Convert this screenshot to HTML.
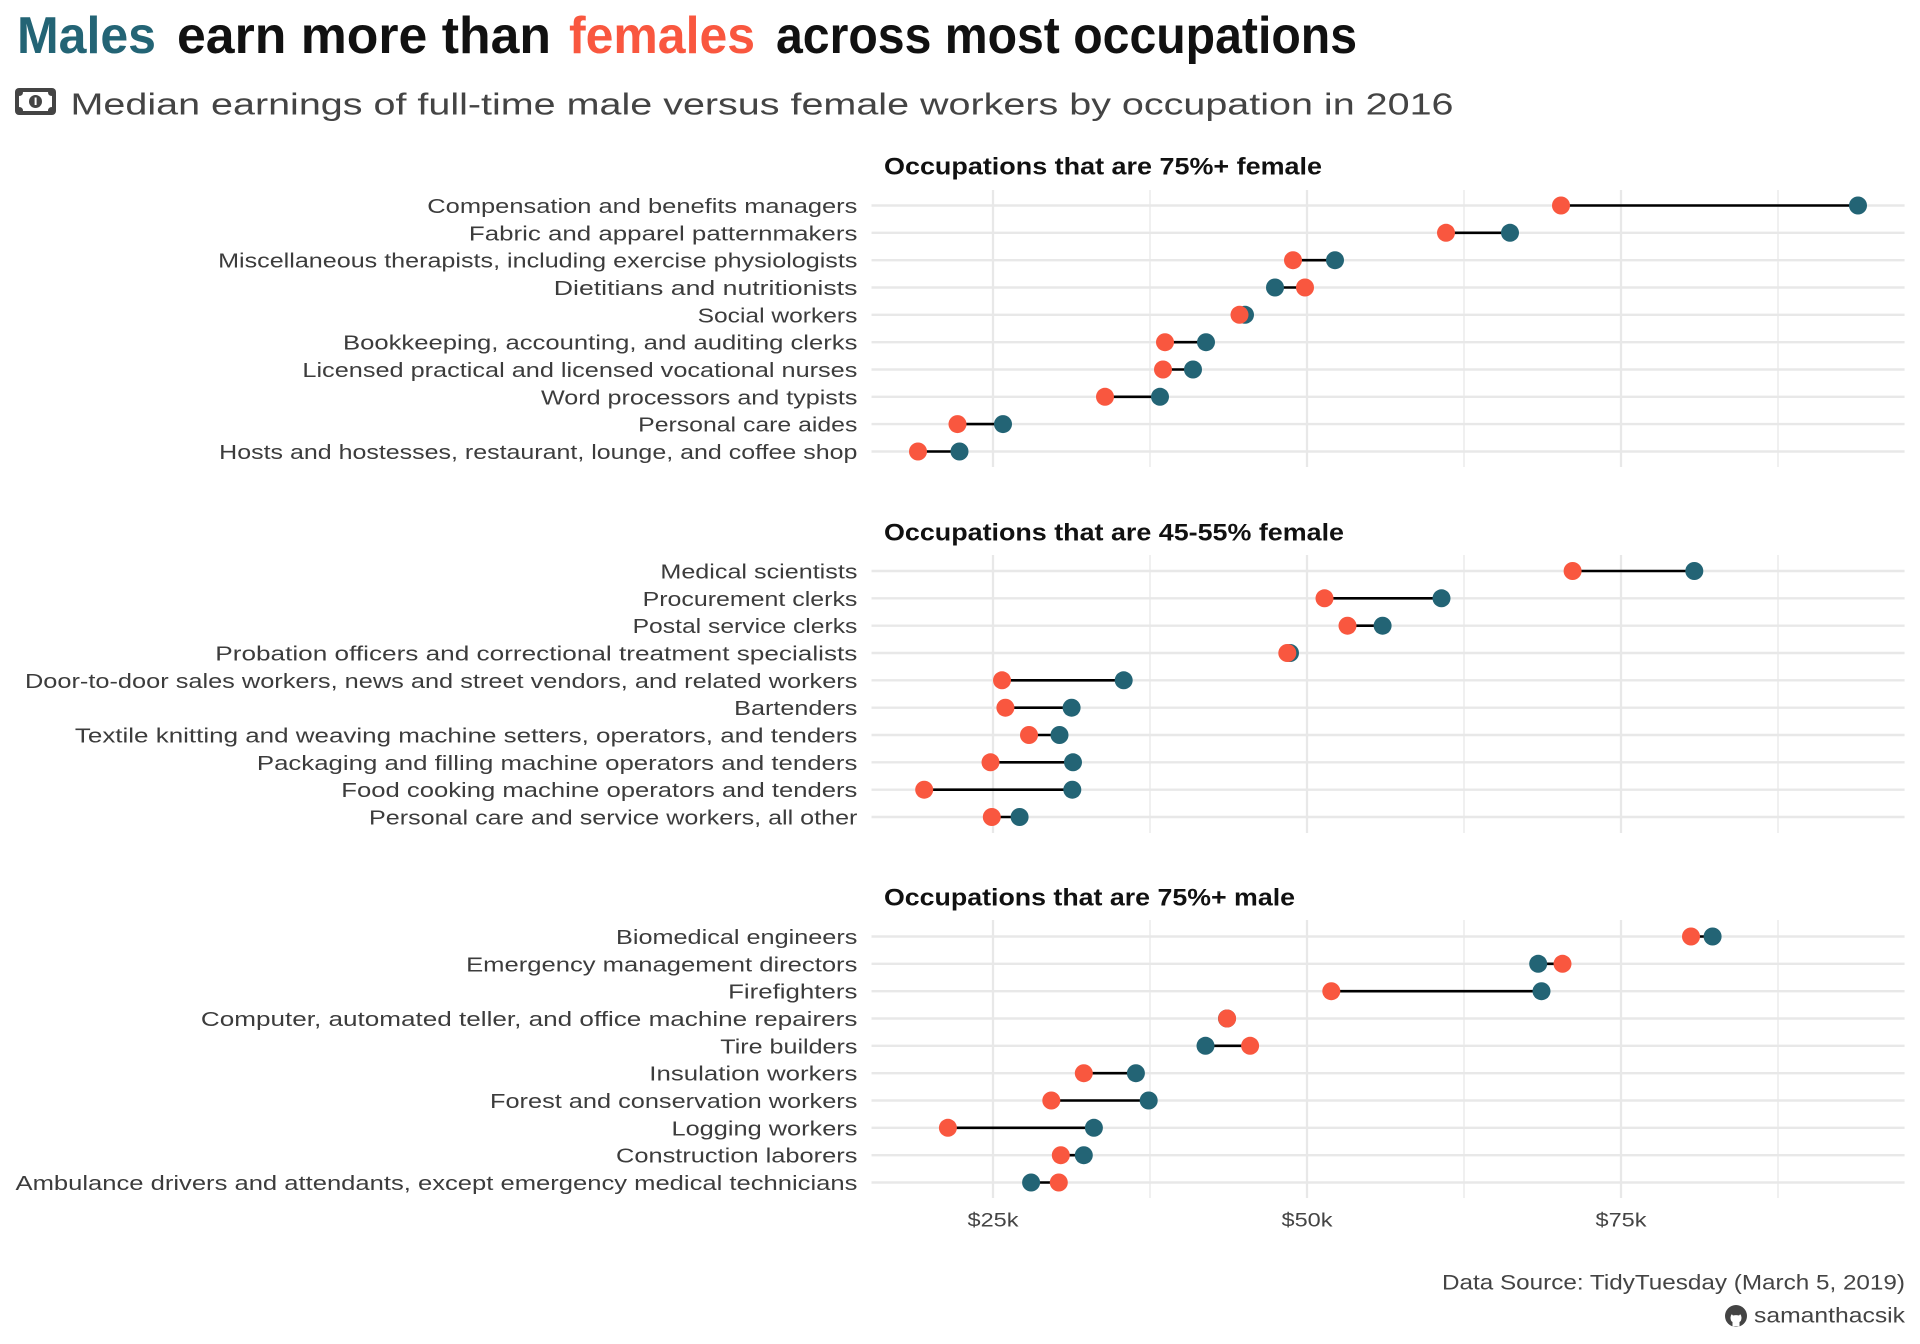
<!DOCTYPE html>
<html><head><meta charset="utf-8">
<style>
html,body{margin:0;padding:0;background:#fff;}
svg{display:block;}
text{font-family:"Liberation Sans",sans-serif;}
.lab{font-size:20px;fill:#3c3c3c;text-anchor:end;}
.pt{font-size:24px;font-weight:bold;fill:#111;}
.ax{font-size:19px;fill:#444;text-anchor:middle;}
.cap{font-size:21px;fill:#444;text-anchor:end;}
.hg{stroke:#e8e8e8;stroke-width:2.4;}
.vM{stroke:#e8e8e8;stroke-width:2.3;}
.vm{stroke:#ececec;stroke-width:1.5;}
.seg{stroke:#000;stroke-width:2.6;}
.m{fill:#236475;}
.f{fill:#F9573F;}
</style></head>
<body>
<svg width="1920" height="1344" viewBox="0 0 1920 1344" xmlns="http://www.w3.org/2000/svg">
<rect width="1920" height="1344" fill="#fff"/>

<!-- Title -->
<text x="17" y="53" font-size="52" font-weight="bold" fill="#236475" textLength="139" lengthAdjust="spacingAndGlyphs">Males</text>
<text x="177" y="53" font-size="52" font-weight="bold" fill="#111" textLength="374" lengthAdjust="spacingAndGlyphs">earn more than</text>
<text x="569" y="53" font-size="52" font-weight="bold" fill="#F9573F" textLength="186" lengthAdjust="spacingAndGlyphs">females</text>
<text x="776" y="53" font-size="52" font-weight="bold" fill="#111" textLength="581" lengthAdjust="spacingAndGlyphs">across most occupations</text>

<!-- Subtitle icon -->
<rect x="15" y="88" width="41" height="27" rx="4" fill="#444"/>
<path d="M23 92 H48 Q48 96 52 96 V107 Q48 107 48 111 H23 Q23 107 19 107 V96 Q23 96 23 92 Z" fill="#fff"/>
<circle cx="35.5" cy="101.5" r="6.5" fill="#444"/>
<rect x="34.6" y="97.5" width="2" height="7.5" fill="#fff"/>
<text x="70.5" y="114.5" font-size="31" fill="#444" textLength="1383" lengthAdjust="spacingAndGlyphs">Median earnings of full-time male versus female workers by occupation in 2016</text>

<!-- Panel titles -->
<text class="pt" x="884" y="174.5" textLength="438" lengthAdjust="spacingAndGlyphs">Occupations that are 75%+ female</text>
<text class="pt" x="884" y="540.5" textLength="460" lengthAdjust="spacingAndGlyphs">Occupations that are 45-55% female</text>
<text class="pt" x="884" y="905.5" textLength="411" lengthAdjust="spacingAndGlyphs">Occupations that are 75%+ male</text>

<!-- Grids panel 1 -->
<g>
<line class="vm" x1="1150" y1="190" x2="1150" y2="467"/>
<line class="vm" x1="1464" y1="190" x2="1464" y2="467"/>
<line class="vm" x1="1778" y1="190" x2="1778" y2="467"/>
<line class="vM" x1="993" y1="190" x2="993" y2="467"/>
<line class="vM" x1="1307" y1="190" x2="1307" y2="467"/>
<line class="vM" x1="1621" y1="190" x2="1621" y2="467"/>
<line class="hg" x1="871.5" x2="1904.6" y1="205.5" y2="205.5"/>
<line class="hg" x1="871.5" x2="1904.6" y1="232.8" y2="232.8"/>
<line class="hg" x1="871.5" x2="1904.6" y1="260.2" y2="260.2"/>
<line class="hg" x1="871.5" x2="1904.6" y1="287.5" y2="287.5"/>
<line class="hg" x1="871.5" x2="1904.6" y1="314.8" y2="314.8"/>
<line class="hg" x1="871.5" x2="1904.6" y1="342.2" y2="342.2"/>
<line class="hg" x1="871.5" x2="1904.6" y1="369.5" y2="369.5"/>
<line class="hg" x1="871.5" x2="1904.6" y1="396.8" y2="396.8"/>
<line class="hg" x1="871.5" x2="1904.6" y1="424.1" y2="424.1"/>
<line class="hg" x1="871.5" x2="1904.6" y1="451.5" y2="451.5"/>
</g>
<!-- Grids panel 2 -->
<g>
<line class="vm" x1="1150" y1="555" x2="1150" y2="833"/>
<line class="vm" x1="1464" y1="555" x2="1464" y2="833"/>
<line class="vm" x1="1778" y1="555" x2="1778" y2="833"/>
<line class="vM" x1="993" y1="555" x2="993" y2="833"/>
<line class="vM" x1="1307" y1="555" x2="1307" y2="833"/>
<line class="vM" x1="1621" y1="555" x2="1621" y2="833"/>
<line class="hg" x1="871.5" x2="1904.6" y1="571" y2="571"/>
<line class="hg" x1="871.5" x2="1904.6" y1="598.3" y2="598.3"/>
<line class="hg" x1="871.5" x2="1904.6" y1="625.7" y2="625.7"/>
<line class="hg" x1="871.5" x2="1904.6" y1="653" y2="653"/>
<line class="hg" x1="871.5" x2="1904.6" y1="680.3" y2="680.3"/>
<line class="hg" x1="871.5" x2="1904.6" y1="707.7" y2="707.7"/>
<line class="hg" x1="871.5" x2="1904.6" y1="735" y2="735"/>
<line class="hg" x1="871.5" x2="1904.6" y1="762.3" y2="762.3"/>
<line class="hg" x1="871.5" x2="1904.6" y1="789.7" y2="789.7"/>
<line class="hg" x1="871.5" x2="1904.6" y1="817" y2="817"/>
</g>
<!-- Grids panel 3 -->
<g>
<line class="vm" x1="1150" y1="920" x2="1150" y2="1198"/>
<line class="vm" x1="1464" y1="920" x2="1464" y2="1198"/>
<line class="vm" x1="1778" y1="920" x2="1778" y2="1198"/>
<line class="vM" x1="993" y1="920" x2="993" y2="1198"/>
<line class="vM" x1="1307" y1="920" x2="1307" y2="1198"/>
<line class="vM" x1="1621" y1="920" x2="1621" y2="1198"/>
<line class="hg" x1="871.5" x2="1904.6" y1="936.5" y2="936.5"/>
<line class="hg" x1="871.5" x2="1904.6" y1="963.8" y2="963.8"/>
<line class="hg" x1="871.5" x2="1904.6" y1="991.2" y2="991.2"/>
<line class="hg" x1="871.5" x2="1904.6" y1="1018.5" y2="1018.5"/>
<line class="hg" x1="871.5" x2="1904.6" y1="1045.8" y2="1045.8"/>
<line class="hg" x1="871.5" x2="1904.6" y1="1073.2" y2="1073.2"/>
<line class="hg" x1="871.5" x2="1904.6" y1="1100.5" y2="1100.5"/>
<line class="hg" x1="871.5" x2="1904.6" y1="1127.8" y2="1127.8"/>
<line class="hg" x1="871.5" x2="1904.6" y1="1155.2" y2="1155.2"/>
<line class="hg" x1="871.5" x2="1904.6" y1="1182.5" y2="1182.5"/>
</g>

<!-- Labels panel 1 -->
<text class="lab" x="857.4" y="213" textLength="430.1" lengthAdjust="spacingAndGlyphs">Compensation and benefits managers</text>
<text class="lab" x="857.4" y="240.3" textLength="388.5" lengthAdjust="spacingAndGlyphs">Fabric and apparel patternmakers</text>
<text class="lab" x="857.4" y="267.7" textLength="639.3" lengthAdjust="spacingAndGlyphs">Miscellaneous therapists, including exercise physiologists</text>
<text class="lab" x="857.4" y="295" textLength="303.6" lengthAdjust="spacingAndGlyphs">Dietitians and nutritionists</text>
<text class="lab" x="857.4" y="322.3" textLength="159.8" lengthAdjust="spacingAndGlyphs">Social workers</text>
<text class="lab" x="857.4" y="349.7" textLength="514.4" lengthAdjust="spacingAndGlyphs">Bookkeeping, accounting, and auditing clerks</text>
<text class="lab" x="857.4" y="377" textLength="555" lengthAdjust="spacingAndGlyphs">Licensed practical and licensed vocational nurses</text>
<text class="lab" x="857.4" y="404.3" textLength="316.4" lengthAdjust="spacingAndGlyphs">Word processors and typists</text>
<text class="lab" x="857.4" y="431.6" textLength="219.2" lengthAdjust="spacingAndGlyphs">Personal care aides</text>
<text class="lab" x="857.4" y="459" textLength="638.2" lengthAdjust="spacingAndGlyphs">Hosts and hostesses, restaurant, lounge, and coffee shop</text>

<!-- Labels panel 2 -->
<text class="lab" x="857.4" y="578.5" textLength="197" lengthAdjust="spacingAndGlyphs">Medical scientists</text>
<text class="lab" x="857.4" y="605.8" textLength="214.8" lengthAdjust="spacingAndGlyphs">Procurement clerks</text>
<text class="lab" x="857.4" y="633.2" textLength="224.8" lengthAdjust="spacingAndGlyphs">Postal service clerks</text>
<text class="lab" x="857.4" y="660.5" textLength="642.1" lengthAdjust="spacingAndGlyphs">Probation officers and correctional treatment specialists</text>
<text class="lab" x="857.4" y="687.8" textLength="832.4" lengthAdjust="spacingAndGlyphs">Door-to-door sales workers, news and street vendors, and related workers</text>
<text class="lab" x="857.4" y="715.2" textLength="123.2" lengthAdjust="spacingAndGlyphs">Bartenders</text>
<text class="lab" x="857.4" y="742.5" textLength="782.5" lengthAdjust="spacingAndGlyphs">Textile knitting and weaving machine setters, operators, and tenders</text>
<text class="lab" x="857.4" y="769.8" textLength="600.5" lengthAdjust="spacingAndGlyphs">Packaging and filling machine operators and tenders</text>
<text class="lab" x="857.4" y="797.2" textLength="516.1" lengthAdjust="spacingAndGlyphs">Food cooking machine operators and tenders</text>
<text class="lab" x="857.4" y="824.5" textLength="488.4" lengthAdjust="spacingAndGlyphs">Personal care and service workers, all other</text>

<!-- Labels panel 3 -->
<text class="lab" x="857.4" y="944" textLength="241.4" lengthAdjust="spacingAndGlyphs">Biomedical engineers</text>
<text class="lab" x="857.4" y="971.3" textLength="391.3" lengthAdjust="spacingAndGlyphs">Emergency management directors</text>
<text class="lab" x="857.4" y="998.7" textLength="129.3" lengthAdjust="spacingAndGlyphs">Firefighters</text>
<text class="lab" x="857.4" y="1026" textLength="656.5" lengthAdjust="spacingAndGlyphs">Computer, automated teller, and office machine repairers</text>
<text class="lab" x="857.4" y="1053.3" textLength="137.1" lengthAdjust="spacingAndGlyphs">Tire builders</text>
<text class="lab" x="857.4" y="1080.7" textLength="208.1" lengthAdjust="spacingAndGlyphs">Insulation workers</text>
<text class="lab" x="857.4" y="1108" textLength="367.4" lengthAdjust="spacingAndGlyphs">Forest and conservation workers</text>
<text class="lab" x="857.4" y="1135.3" textLength="185.9" lengthAdjust="spacingAndGlyphs">Logging workers</text>
<text class="lab" x="857.4" y="1162.7" textLength="241.4" lengthAdjust="spacingAndGlyphs">Construction laborers</text>
<text class="lab" x="857.4" y="1190" textLength="841.9" lengthAdjust="spacingAndGlyphs">Ambulance drivers and attendants, except emergency medical technicians</text>

<!-- Segments panel 1 -->
<g class="seg">
<line x1="1561" x2="1858" y1="205.5" y2="205.5"/>
<line x1="1446" x2="1510" y1="232.8" y2="232.8"/>
<line x1="1293" x2="1335" y1="260.2" y2="260.2"/>
<line x1="1275" x2="1305" y1="287.5" y2="287.5"/>
<line x1="1239.5" x2="1245" y1="314.8" y2="314.8"/>
<line x1="1165" x2="1206" y1="342.2" y2="342.2"/>
<line x1="1163" x2="1193" y1="369.5" y2="369.5"/>
<line x1="1105" x2="1160" y1="396.8" y2="396.8"/>
<line x1="957.5" x2="1003" y1="424.1" y2="424.1"/>
<line x1="918" x2="959.5" y1="451.5" y2="451.5"/>
</g>
<!-- Segments panel 2 -->
<g class="seg">
<line x1="1572.6" x2="1694.3" y1="571" y2="571"/>
<line x1="1324.5" x2="1441.5" y1="598.3" y2="598.3"/>
<line x1="1347.5" x2="1382.6" y1="625.7" y2="625.7"/>
<line x1="1287.3" x2="1290" y1="653" y2="653"/>
<line x1="1002" x2="1123.7" y1="680.3" y2="680.3"/>
<line x1="1005.4" x2="1071.6" y1="707.7" y2="707.7"/>
<line x1="1029" x2="1059.5" y1="735" y2="735"/>
<line x1="990.5" x2="1073" y1="762.3" y2="762.3"/>
<line x1="924.2" x2="1072.3" y1="789.7" y2="789.7"/>
<line x1="991.8" x2="1019.6" y1="817" y2="817"/>
</g>
<!-- Segments panel 3 -->
<g class="seg">
<line x1="1691" x2="1712.6" y1="936.5" y2="936.5"/>
<line x1="1538.2" x2="1562.5" y1="963.8" y2="963.8"/>
<line x1="1331.3" x2="1541.5" y1="991.2" y2="991.2"/>
<line x1="1205.5" x2="1250.1" y1="1045.8" y2="1045.8"/>
<line x1="1083.8" x2="1135.9" y1="1073.2" y2="1073.2"/>
<line x1="1051.3" x2="1148.7" y1="1100.5" y2="1100.5"/>
<line x1="947.9" x2="1093.9" y1="1127.8" y2="1127.8"/>
<line x1="1060.8" x2="1083.8" y1="1155.2" y2="1155.2"/>
<line x1="1031.1" x2="1058.8" y1="1182.5" y2="1182.5"/>
</g>

<!-- Male dots -->
<g class="m">
<circle r="9" cx="1858" cy="205.5"/>
<circle r="9" cx="1510" cy="232.8"/>
<circle r="9" cx="1335" cy="260.2"/>
<circle r="9" cx="1275" cy="287.5"/>
<circle r="9" cx="1245" cy="314.8"/>
<circle r="9" cx="1206" cy="342.2"/>
<circle r="9" cx="1193" cy="369.5"/>
<circle r="9" cx="1160" cy="396.8"/>
<circle r="9" cx="1003" cy="424.1"/>
<circle r="9" cx="959.5" cy="451.5"/>

<circle r="9" cx="1694.3" cy="571"/>
<circle r="9" cx="1441.5" cy="598.3"/>
<circle r="9" cx="1382.6" cy="625.7"/>
<circle r="9" cx="1290" cy="653"/>
<circle r="9" cx="1123.7" cy="680.3"/>
<circle r="9" cx="1071.6" cy="707.7"/>
<circle r="9" cx="1059.5" cy="735"/>
<circle r="9" cx="1073" cy="762.3"/>
<circle r="9" cx="1072.3" cy="789.7"/>
<circle r="9" cx="1019.6" cy="817"/>

<circle r="9" cx="1712.6" cy="936.5"/>
<circle r="9" cx="1538.2" cy="963.8"/>
<circle r="9" cx="1541.5" cy="991.2"/>
<circle r="9" cx="1227" cy="1018.5"/>
<circle r="9" cx="1205.5" cy="1045.8"/>
<circle r="9" cx="1135.9" cy="1073.2"/>
<circle r="9" cx="1148.7" cy="1100.5"/>
<circle r="9" cx="1093.9" cy="1127.8"/>
<circle r="9" cx="1083.8" cy="1155.2"/>
<circle r="9" cx="1031.1" cy="1182.5"/>
</g>

<!-- Female dots -->
<g class="f">
<circle r="9" cx="1561" cy="205.5"/>
<circle r="9" cx="1446" cy="232.8"/>
<circle r="9" cx="1293" cy="260.2"/>
<circle r="9" cx="1305" cy="287.5"/>
<circle r="9" cx="1239.5" cy="314.8"/>
<circle r="9" cx="1165" cy="342.2"/>
<circle r="9" cx="1163" cy="369.5"/>
<circle r="9" cx="1105" cy="396.8"/>
<circle r="9" cx="957.5" cy="424.1"/>
<circle r="9" cx="918" cy="451.5"/>

<circle r="9" cx="1572.6" cy="571"/>
<circle r="9" cx="1324.5" cy="598.3"/>
<circle r="9" cx="1347.5" cy="625.7"/>
<circle r="9" cx="1287.3" cy="653"/>
<circle r="9" cx="1002" cy="680.3"/>
<circle r="9" cx="1005.4" cy="707.7"/>
<circle r="9" cx="1029" cy="735"/>
<circle r="9" cx="990.5" cy="762.3"/>
<circle r="9" cx="924.2" cy="789.7"/>
<circle r="9" cx="991.8" cy="817"/>

<circle r="9" cx="1691" cy="936.5"/>
<circle r="9" cx="1562.5" cy="963.8"/>
<circle r="9" cx="1331.3" cy="991.2"/>
<circle r="9" cx="1227.1" cy="1018.5"/>
<circle r="9" cx="1250.1" cy="1045.8"/>
<circle r="9" cx="1083.8" cy="1073.2"/>
<circle r="9" cx="1051.3" cy="1100.5"/>
<circle r="9" cx="947.9" cy="1127.8"/>
<circle r="9" cx="1060.8" cy="1155.2"/>
<circle r="9" cx="1058.8" cy="1182.5"/>
</g>

<!-- X axis labels -->
<text class="ax" x="993" y="1226.5" textLength="51" lengthAdjust="spacingAndGlyphs">$25k</text>
<text class="ax" x="1307" y="1226.5" textLength="51" lengthAdjust="spacingAndGlyphs">$50k</text>
<text class="ax" x="1621" y="1226.5" textLength="51" lengthAdjust="spacingAndGlyphs">$75k</text>

<!-- Caption -->
<text class="cap" x="1905" y="1289.5" textLength="463" lengthAdjust="spacingAndGlyphs">Data Source: TidyTuesday (March 5, 2019)</text>
<circle cx="1736" cy="1316" r="11" fill="#444"/>
<path d="M1732.5 1326.5 V1322 Q1730.5 1321 1730.5 1317.5 Q1730.5 1315.5 1731.8 1314.3 L1733 1315.5 Q1736 1314.8 1739 1315.5 L1740.2 1314.3 Q1741.5 1315.5 1741.5 1317.5 Q1741.5 1321 1739.5 1322 V1326.5 Z" fill="#fff"/>
<text class="cap" x="1905" y="1322.7" textLength="151" lengthAdjust="spacingAndGlyphs">samanthacsik</text>
</svg>
</body></html>
